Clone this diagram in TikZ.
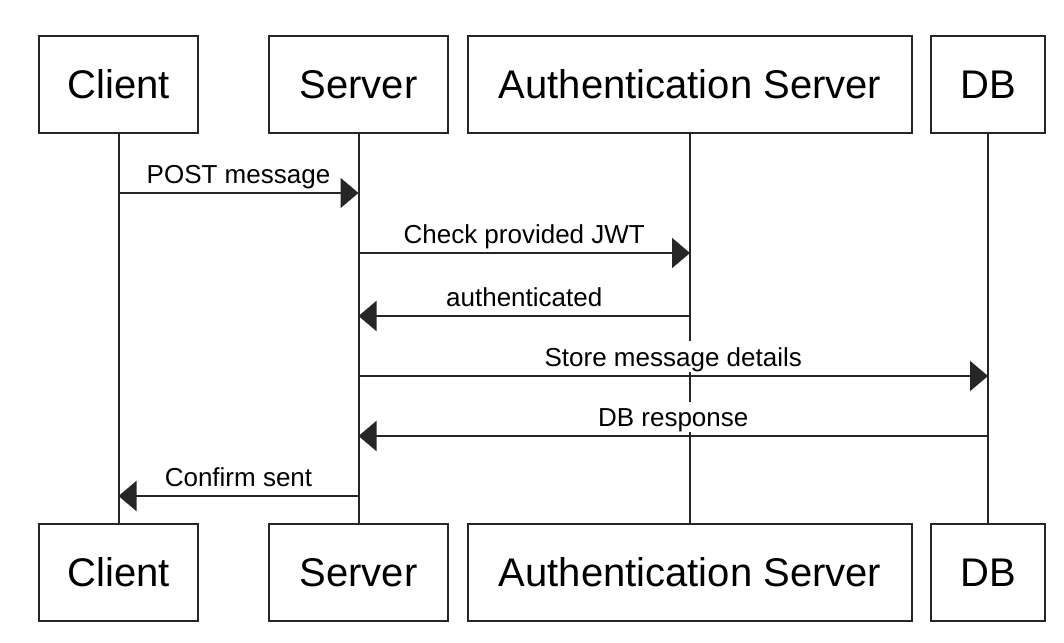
\documentclass[tikz,border=0pt]{standalone}
\usepackage{fontspec}
\setmainfont{Liberation Sans}
\usetikzlibrary{arrows.meta}

\begin{document}
\begin{tikzpicture}[x=1pt, y=-1pt, >={Triangle[length=18pt, width=30pt]},
    actor/.style={draw=black!85, line width=2pt, minimum height=97pt, inner sep=0pt, font=\fontsize{40}{48}\selectfont},
    life/.style={draw=black!85, line width=2pt},
    msg/.style={->, draw=black!85, line width=2pt},
    lbl/.style={fill=white, anchor=south, inner xsep=2pt, inner ysep=6pt, text depth=0pt, yshift=3pt, font=\fontsize{26}{31}\selectfont}]
    \useasboundingbox (0,0) rectangle (1064,642);
    \node[actor, minimum width=159pt] (client) at (118.5,84.5) {Client};
    \node[actor, minimum width=179pt] (server) at (358.5,84.5) {Server};
    \node[actor, minimum width=444pt] (auth) at (690,84.5) {Authentication Server};
    \node[actor, minimum width=114pt] (db) at (988,84.5) {DB};
    \node[actor, minimum width=159pt] (client-b) at (118.5,572.5) {Client};
    \node[actor, minimum width=179pt] (server-b) at (358.5,572.5) {Server};
    \node[actor, minimum width=444pt] (auth-b) at (690,572.5) {Authentication Server};
    \node[actor, minimum width=114pt] (db-b) at (988,572.5) {DB};

    \draw[life] (client) -- (client-b);
    \draw[life] (server) -- (server-b);
    \draw[life] (auth) -- (auth-b);
    \draw[life] (db) -- (db-b);

    \coordinate (post-c) at (client.south |- 0,193);
    \coordinate (post-s) at (server.south |- 0,193);
    \coordinate (jwt-s) at (server.south |- 0,253);
    \coordinate (jwt-a) at (auth.south |- 0,253);
    \coordinate (ok-a) at (auth.south |- 0,316);
    \coordinate (ok-s) at (server.south |- 0,316);
    \coordinate (store-s) at (server.south |- 0,376);
    \coordinate (store-d) at (db.south |- 0,376);
    \coordinate (resp-d) at (db.south |- 0,436);
    \coordinate (resp-s) at (server.south |- 0,436);
    \coordinate (sent-s) at (server.south |- 0,496);
    \coordinate (sent-c) at (client.south |- 0,496);

    \draw[msg] (post-c) -- (post-s) node[lbl, midway] {POST message};
    \draw[msg] (jwt-s) -- (jwt-a) node[lbl, midway] {Check provided JWT};
    \draw[msg] (ok-a) -- (ok-s) node[lbl, midway] {authenticated};
    \draw[msg] (store-s) -- (store-d) node[lbl, midway] {Store message details};
    \draw[msg] (resp-d) -- (resp-s) node[lbl, midway] {DB response};
    \draw[msg] (sent-s) -- (sent-c) node[lbl, midway] {Confirm sent};
\end{tikzpicture}
\end{document}
